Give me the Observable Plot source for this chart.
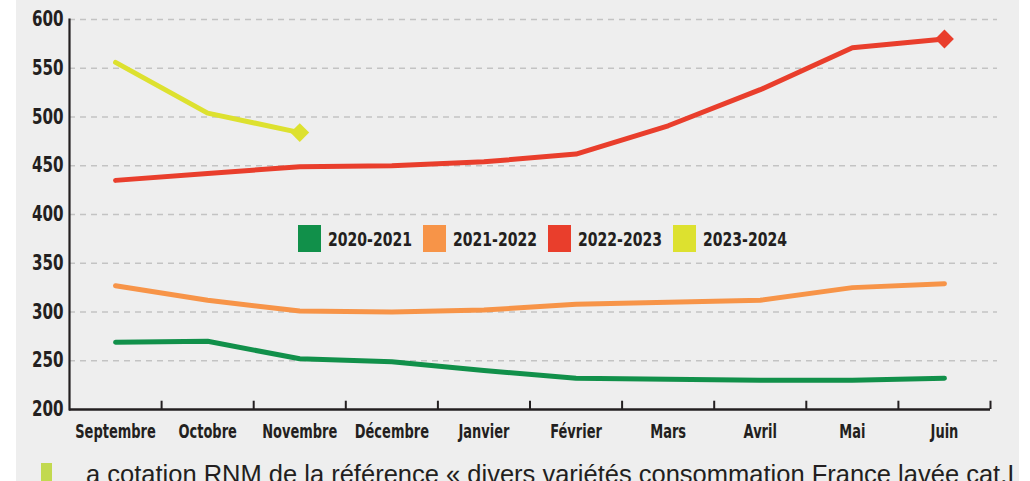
<!DOCTYPE html>
<html>
<head>
<meta charset="utf-8">
<script src="https://cdn.jsdelivr.net/npm/d3@7"></script>
<script src="https://cdn.jsdelivr.net/npm/@observablehq/plot@0.6"></script>
<style>
  html, body { margin: 0; padding: 0; background: #ffffff; }
  #wrap { position: absolute; left: 16px; top: 0; width: 1003px; height: 481px; background: #eeeeee; overflow: hidden; }
  .narrow { font-family: 'Liberation Sans Narrow', 'DejaVu Sans Condensed', 'Arial Narrow', sans-serif; font-weight: bold; color: #231f20; }
  #legend { position: absolute; left: 282px; top: 225px; display: flex; align-items: center; }
  .item { display: flex; align-items: center; width: 125px; }
  .sw { width: 23px; height: 27px; margin-right: 7px; flex: none; }
  .lt { font-size: 20px; display: inline-block; transform: scaleX(0.78); transform-origin: left center; white-space: nowrap; }
  #bar { position: absolute; left: 25px; top: 463px; width: 11px; height: 30px; background: #c2d94f; }
  #caption { position: absolute; left: 70px; top: 460px; font-family: 'Liberation Sans', sans-serif; font-size: 25.5px; color: #231f20; white-space: nowrap; }
</style>
</head>
<body>
<div id="wrap">
  <div id="chart"></div>
  <div id="legend" class="narrow"></div>
  <div id="bar"></div>
  <div id="caption">a cotation RNM de la référence « divers variétés consommation France lavée cat.I</div>
</div>
<script>
const months = ["Septembre","Octobre","Novembre","Décembre","Janvier","Février","Mars","Avril","Mai","Juin"];
const seasons = ["2020-2021","2021-2022","2022-2023","2023-2024"];
const colors = ["#11904a","#f79448","#e93e2c","#dde12f"];
const v2020 = [269,270,252,249,240,232,231,230,230,232];
const v2021 = [327,312,301,300,302,308,310,312,325,329];
const v2022 = [435,442,449,450,454,462,491,528,571,580];
const v2023 = [556,504,484];
const yTicks = [200,250,300,350,400,450,500,550,600];

const series = [v2020, v2021, v2022, v2023];
const rows = [];
series.forEach((vals, s) => vals.forEach((v, i) => rows.push({season: seasons[s], i, v})));
const ends = [2, 3].map(s => ({season: seasons[s], i: series[s].length - 1, v: series[s][series[s].length - 1]}));
const bounds = months.map((_, i) => i + 0.5);
const font = "'Liberation Sans Narrow', 'DejaVu Sans Condensed', 'Arial Narrow', sans-serif";

const chart = Plot.plot({
  width: 1003,
  height: 450,
  marginTop: 19,
  marginBottom: 41,
  marginLeft: 53,
  marginRight: 22,
  style: {background: "transparent", fontFamily: font, color: "#231f20"},
  x: {domain: [-0.5, months.length - 0.5], range: [53, 974], axis: null},
  y: {domain: [200, 600], axis: null},
  color: {domain: seasons, range: colors},
  marks: [
    Plot.ruleY(yTicks.slice(1), {stroke: "#c3c3c3", strokeDasharray: "6,5", strokeWidth: 1.6}),
    Plot.frame({anchor: "left", stroke: "#231f20", strokeWidth: 2.2}),
    Plot.ruleY([200], {x1: -0.5, x2: months.length - 0.5, stroke: "#231f20", strokeWidth: 2.6}),
    Plot.ruleX(bounds, {y1: 200, y2: 208.5, stroke: "#231f20", strokeWidth: 2}),
    Plot.axisY({ticks: yTicks, tickSize: 0, tickPadding: 6, fontSize: 21, fontWeight: "bold", label: null}),
    Plot.text(months, {x: (d, i) => i, y: 200, dy: 22, text: d => d, fontSize: 19, fontWeight: "bold", fill: "#231f20"}),
    Plot.line(rows, {x: "i", y: "v", z: "season", stroke: "season", strokeWidth: 5, strokeLinecap: "round", strokeLinejoin: "round"}),
    Plot.dot(ends, {x: "i", y: "v", fill: "season", symbol: "diamond2", r: 8.5})
  ]
});
document.getElementById("chart").appendChild(chart);

function squeeze(sel, f) {
  chart.querySelectorAll(sel).forEach(t => {
    const w = t.getComputedTextLength();
    t.setAttribute("textLength", (w * f).toFixed(1));
    t.setAttribute("lengthAdjust", "spacingAndGlyphs");
  });
}
squeeze('g[aria-label="y-axis tick label"] text', 0.8);
squeeze('g[aria-label="text"] text', 0.76);

const legend = document.getElementById("legend");
seasons.forEach((s, k) => {
  const item = document.createElement("div");
  item.className = "item";
  const sw = document.createElement("div");
  sw.className = "sw";
  sw.style.background = colors[k];
  const t = document.createElement("span");
  t.className = "lt";
  t.textContent = s;
  item.appendChild(sw);
  item.appendChild(t);
  legend.appendChild(item);
});
</script>
</body>
</html>
